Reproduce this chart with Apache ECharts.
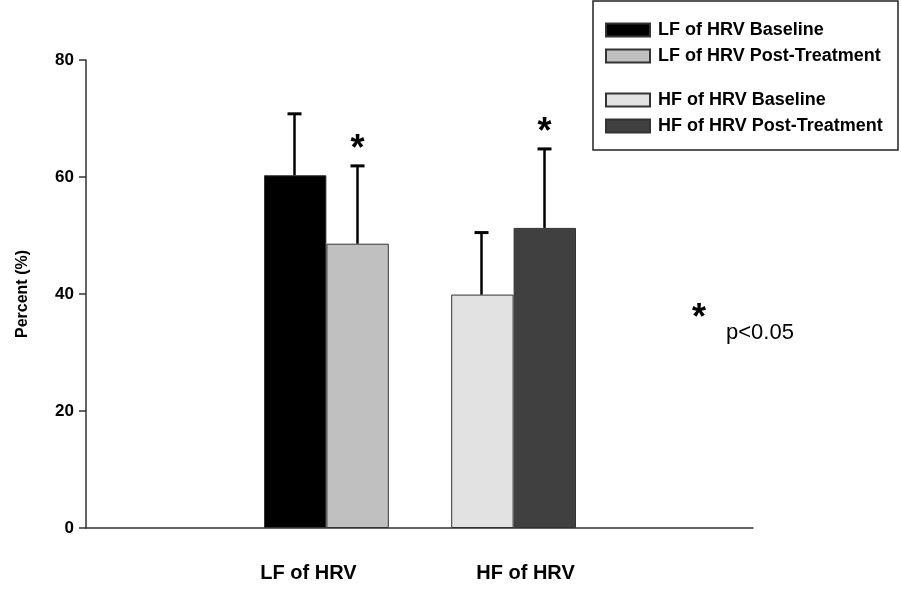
<!DOCTYPE html>
<html>
<head>
<meta charset="utf-8">
<script src="https://cdn.jsdelivr.net/npm/echarts@6/dist/echarts.min.js"></script>
<style>
  html, body { margin: 0; padding: 0; background: #fff; }
  #chart { width: 901px; height: 589px; }
</style>
</head>
<body>
<div id="chart"></div>
<script>
// groups on the x axis
var categories = ['LF of HRV', 'HF of HRV'];
// series names (legend order)
var seriesNames = ['LF of HRV Baseline', 'LF of HRV Post-Treatment', 'HF of HRV Baseline', 'HF of HRV Post-Treatment'];
// bar slots: LF base, LF post, (gap), HF base, HF post
var slots = ['a', 'b', 'gap', 'c', 'd'];
var slotOf = [0, 1, 3, 4];
var means = [60.3, 48.6, 39.9, 51.3];
var errTops = [70.8, 61.9, 50.5, 64.8];
var significant = [false, true, false, true];
var colors = ['#000000', '#c0c0c0', '#e2e2e2', '#404040'];
var yTicks = [0, 20, 40, 60, 80];

var font = '"Liberation Sans", Arial, sans-serif';

var series = [];
for (var i = 0; i < seriesNames.length; i++) {
    var d = [];
    for (var k = 0; k < slots.length; k++) d.push('-');
    d[slotOf[i]] = means[i];
    series.push({
        name: seriesNames[i],
        type: 'bar',
        xAxisIndex: 1,
        yAxisIndex: 1,
        barGap: '-100%',
        barCategoryGap: '0%',
        data: d,
        itemStyle: { color: colors[i], borderColor: '#333', borderWidth: 1 },
        emphasis: { disabled: true }
    });
}

var errData = [];
for (var j = 0; j < means.length; j++) {
    errData.push([slotOf[j], means[j], errTops[j], significant[j] ? 1 : 0]);
}
series.push({
    type: 'custom',
    xAxisIndex: 1,
    yAxisIndex: 1,
    data: errData,
    z: 10,
    renderItem: function (params, api) {
        var base = api.coord([api.value(0), api.value(1)]);
        var top = api.coord([api.value(0), api.value(2)]);
        var x = Math.round(base[0]) - 0.5;
        var children = [
            { type: 'line', shape: { x1: x, y1: base[1], x2: x, y2: top[1] },
              style: { stroke: '#000', lineWidth: 2.5 } },
            { type: 'line', shape: { x1: x - 7, y1: top[1], x2: x + 7, y2: top[1] },
              style: { stroke: '#000', lineWidth: 3 } }
        ];
        if (api.value(3)) {
            children.push({ type: 'text', style: {
                text: '*', x: x, y: top[1] - 16, align: 'center', verticalAlign: 'middle',
                font: 'bold 36px ' + font, fill: '#000' } });
        }
        return { type: 'group', children: children };
    }
});

var legendBase = {
    orient: 'vertical',
    left: 605,
    padding: 0,
    itemWidth: 44,
    itemHeight: 13,
    itemGap: 8,
    icon: 'rect',
    selectedMode: false,
    textStyle: { fontFamily: font, fontWeight: 'bold', fontSize: 18, color: '#000', lineHeight: 17, padding: [0, 0, 0, 3] }
};

var option = {
    animation: false,
    backgroundColor: '#fff',
    legend: [
        Object.assign({}, legendBase, { top: 21, data: seriesNames.slice(0, 2) }),
        Object.assign({}, legendBase, { top: 91, data: seriesNames.slice(2, 4) })
    ],
    grid: [
        { left: 86, right: 148, top: 60, bottom: 61 },
        { left: 264, width: 312, top: 60, bottom: 61 },
        { left: 200, width: 434, top: 60, bottom: 61 }
    ],
    xAxis: [
        { type: 'category', gridIndex: 0, data: ['', ''], boundaryGap: true,
          axisLine: { lineStyle: { color: '#333', width: 1.5 } },
          axisTick: { length: 6, lineStyle: { color: '#333', width: 1.5 } },
          axisLabel: { show: false } },
        { type: 'category', gridIndex: 1, data: slots, show: false },
        { type: 'category', gridIndex: 2, data: categories,
          axisLine: { show: false }, axisTick: { show: false },
          axisLabel: { margin: 35, fontFamily: font, fontWeight: 'bold', fontSize: 20, color: '#000' } }
    ],
    yAxis: [
        { type: 'value', gridIndex: 0, min: yTicks[0], max: yTicks[yTicks.length - 1], interval: 20,
          name: 'Percent (%)', nameLocation: 'middle', nameGap: 55,
          nameTextStyle: { fontFamily: font, fontWeight: 'bold', fontSize: 16, color: '#000' },
          axisLine: { show: true, lineStyle: { color: '#333', width: 1.5 } },
          axisTick: { show: true, length: 7, lineStyle: { color: '#333', width: 1.5 } },
          splitLine: { show: false },
          axisLabel: { margin: 12, fontFamily: font, fontWeight: 'bold', fontSize: 17, color: '#000' } },
        { type: 'value', gridIndex: 1, min: 0, max: 80, show: false, splitLine: { show: false } },
        { type: 'value', gridIndex: 2, min: 0, max: 80, show: false, splitLine: { show: false } }
    ],
    graphic: [
        { type: 'rect', shape: { x: 593, y: 1, width: 305, height: 149 },
          style: { fill: 'none', stroke: '#222', lineWidth: 1.5 }, z: 0 },
        { type: 'text', left: 692, top: 301,
          style: { text: '*', font: 'bold 36px ' + font, fill: '#000' } },
        { type: 'text', left: 726, top: 322,
          style: { text: 'p<0.05', font: '22px ' + font, fill: '#000' } }
    ],
    series: series
};

var chart = echarts.init(document.getElementById('chart'));
chart.setOption(option);
</script>
</body>
</html>
